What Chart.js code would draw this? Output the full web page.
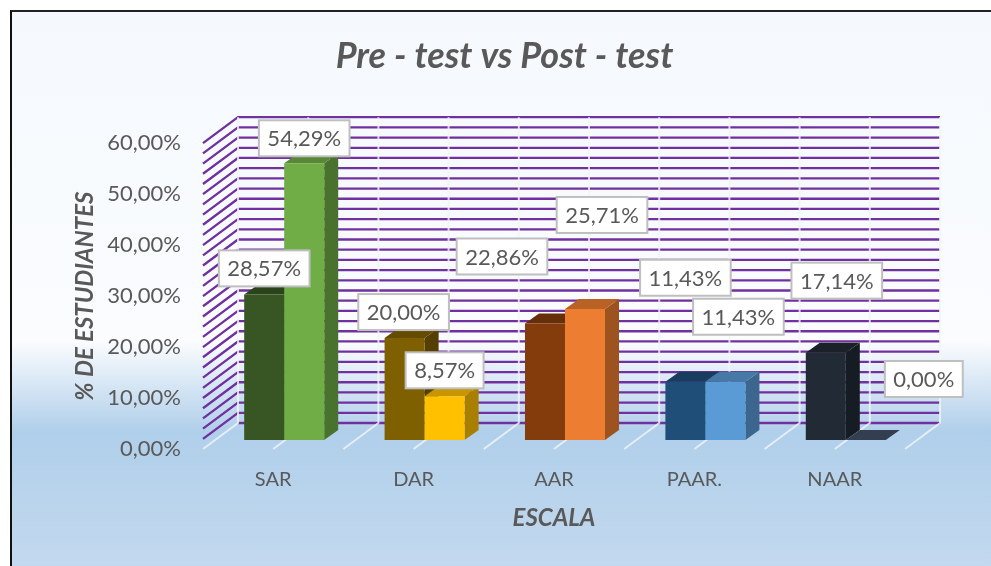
<!DOCTYPE html>
<html>
<head>
<meta charset="utf-8">
<title>Pre - test vs Post - test</title>
<script src="https://cdn.jsdelivr.net/npm/chart.js@4/dist/chart.umd.min.js"></script>
<style>
    html, body { margin: 0; padding: 0; background: #fff; overflow: hidden; }
    #frame {
        position: absolute; left: 10px; top: 10px; width: 981px; height: 556px;
        border-left: 2px solid #111; border-top: 2px solid #222; box-sizing: border-box;
        background: linear-gradient(180deg, #f5f9fd 0, #fafcfe 330px, #b0cfea 420px, #c3d9ef 556px);
    }
    #chart { position: absolute; left: 0; top: 0; }
</style>
</head>
<body>
<div id="frame"></div>
<canvas id="chart" width="991" height="566"></canvas>
<script>
const categories = ['SAR', 'DAR', 'AAR', 'PAAR.', 'NAAR'];
const preValues = [28.57, 20.00, 22.86, 11.43, 17.14];
const postValues = [54.29, 8.57, 25.71, 11.43, 0.00];
const preColors = ['#375623', '#7f6000', '#843c0c', '#1f4e79', '#222a35'];
const postColors = ['#70ad47', '#ffc000', '#ed7d31', '#5b9bd5', '#333f50'];

// where the value boxes sit, relative to the top of their bar
const preLabelShiftX = [0, -1, -43, 0, 11];
const preLabelShiftY = [-26, -26, -67, -104, -72];
const postLabelShiftX = [0, 0, 17, 13, 58];
const postLabelShiftY = [-25, -26, -94, -65, -61];

const FONT = 'Lato, "Open Sans", sans-serif';
const TEXT = '#595959';
const WALL = { dx: 35, dy: 26 };   // depth of the 3D box
const BAR_SHIFT = { dx: 11, dy: 9 }; // bars stand inside the box
const BAR_DEPTH = { dx: 14, dy: 10 };

function shade(hex, f) {
    const n = parseInt(hex.slice(1), 16);
    const r = Math.round((n >> 16) * f), g = Math.round(((n >> 8) & 255) * f), b = Math.round((n & 255) * f);
    return `rgb(${r},${g},${b})`;
}

function pct(v) {
    return v.toFixed(2).replace('.', ',') + '%';
}

function poly(ctx, pts, fill) {
    ctx.beginPath();
    pts.forEach((p, i) => i ? ctx.lineTo(p[0], p[1]) : ctx.moveTo(p[0], p[1]));
    ctx.closePath();
    ctx.fillStyle = fill;
    ctx.fill();
}

// back wall, side wall and floor of the 3D box
const wallPlugin = {
    id: 'wall',
    beforeDatasetsDraw(chart) {
        const { ctx, chartArea: a, scales } = chart;
        const zero = scales.y.getPixelForValue(0);
        ctx.save();
        ctx.lineWidth = 2.3;
        ctx.strokeStyle = '#7030a0';
        scales.y.ticks.forEach(t => {
            const y = scales.y.getPixelForValue(t.value);
            ctx.beginPath();
            if (t.value > 0) ctx.moveTo(a.left, y); else ctx.moveTo(a.left + WALL.dx, y - WALL.dy);
            ctx.lineTo(a.left + WALL.dx, y - WALL.dy);
            ctx.lineTo(a.right + WALL.dx, y - WALL.dy);
            ctx.stroke();
        });
        ctx.lineWidth = 2;
        ctx.strokeStyle = 'rgba(242,244,247,0.8)';
        const step = (a.right - a.left) / (categories.length * 2);
        for (let i = 0; i <= categories.length * 2; i++) {
            const x = a.left + step * i;
            ctx.beginPath();
            ctx.moveTo(x, zero);
            ctx.lineTo(x + WALL.dx, zero - WALL.dy);
            ctx.lineTo(x + WALL.dx, a.top - WALL.dy);
            ctx.stroke();
        }
        ctx.restore();
    },
    // bars are painted left to right so the right bar hides the side of the left one
    beforeDatasetDraw() {
        return false;
    },
    afterDatasetsDraw(chart) {
        const { ctx } = chart;
        ctx.save();
        ctx.translate(BAR_SHIFT.dx, -BAR_SHIFT.dy);
        chart.getSortedVisibleDatasetMetas().forEach(meta => {
            const colors = chart.data.datasets[meta.index].backgroundColor;
            const values = chart.data.datasets[meta.index].data;
            meta.data.forEach((bar, i) => {
                const { x, y, base, width } = bar.getProps(['x', 'y', 'base', 'width']);
                const l = x - width / 2, r = x + width / 2;
                const d = BAR_DEPTH;
                poly(ctx, [[r, y], [r + d.dx, y - d.dy], [r + d.dx, base - d.dy], [r, base]], shade(colors[i], 0.66));
                poly(ctx, [[l, y], [l + d.dx, y - d.dy], [r + d.dx, y - d.dy], [r, y]],
                    values[i] === 0 ? colors[i] : shade(colors[i], 0.78));
            });
            meta.controller.draw();
        });
        ctx.restore();
    },
    afterLayout(chart) {
        // the title is centred on the full picture of the original, not on this window
        chart.titleBlock.left += 22;
        chart.titleBlock.right += 22;
    }
};

// white value boxes
const boxPlugin = {
    id: 'boxes',
    afterDraw(chart) {
        const { ctx } = chart;
        const shiftsX = [preLabelShiftX, postLabelShiftX];
        const shiftsY = [preLabelShiftY, postLabelShiftY];
        ctx.save();
        ctx.font = `22px ${FONT}`;
        ctx.textAlign = 'center';
        ctx.textBaseline = 'middle';
        chart.getSortedVisibleDatasetMetas().forEach(meta => {
            const values = chart.data.datasets[meta.index].data;
            meta.data.forEach((bar, i) => {
                const text = pct(values[i]);
                const cx = bar.x + BAR_SHIFT.dx + shiftsX[meta.index][i];
                const cy = bar.y - BAR_SHIFT.dy + shiftsY[meta.index][i];
                const w = ctx.measureText(text).width + 17, h = 36;
                ctx.fillStyle = '#fff';
                ctx.strokeStyle = '#bfbfbf';
                ctx.lineWidth = 2;
                ctx.fillRect(cx - w / 2, cy - h / 2, w, h);
                ctx.strokeRect(cx - w / 2, cy - h / 2, w, h);
                ctx.fillStyle = TEXT;
                ctx.fillText(text, cx, cy + 1);
            });
        });
        ctx.restore();
    }
};

new Chart(document.getElementById('chart').getContext('2d'), {
    type: 'bar',
    data: {
        labels: categories,
        datasets: [
            { label: 'Pre - test', data: preValues, backgroundColor: preColors, borderWidth: 0 },
            { label: 'Post - test', data: postValues, backgroundColor: postColors, borderWidth: 0 }
        ]
    },
    options: {
        responsive: false,
        animation: false,
        layout: { padding: { left: 60, right: 86, top: 0, bottom: 0 } },
        datasets: { bar: { barPercentage: 1, categoryPercentage: 0.57 } },
        plugins: {
            legend: { display: false },
            tooltip: { enabled: false },
            title: {
                display: true,
                text: 'Pre - test vs Post - test',
                color: TEXT,
                font: { family: FONT, size: 36, weight: 'bold', style: 'italic' },
                padding: { top: 35, bottom: 65 }
            }
        },
        scales: {
            x: {
                grid: { display: false },
                border: { display: false },
                ticks: { color: TEXT, padding: 11, font: { family: FONT, size: 20 }, maxRotation: 0 },
                title: {
                    display: true,
                    text: 'ESCALA',
                    color: TEXT,
                    font: { family: FONT, size: 24, weight: 'bold', style: 'italic' },
                    padding: { top: 0, bottom: 33 }
                },
                afterFit(scale) { scale.height = 117; }
            },
            y: {
                min: 0,
                max: 60,
                grid: { display: false },
                border: { display: false },
                ticks: {
                    stepSize: 2,
                    autoSkip: false,
                    maxTicksLimit: 40,
                    color: TEXT,
                    padding: 14,
                    font: { family: FONT, size: 22 },
                    callback: v => (v % 10 === 0 ? pct(v) : '')
                },
                title: {
                    display: true,
                    text: '% DE ESTUDIANTES',
                    color: TEXT,
                    font: { family: FONT, size: 24, weight: 'bold', style: 'italic' },
                    padding: { top: 11, bottom: 0 }
                },
                afterFit(scale) { scale.width = 143; }
            }
        }
    },
    plugins: [wallPlugin, boxPlugin]
});
</script>
</body>
</html>
